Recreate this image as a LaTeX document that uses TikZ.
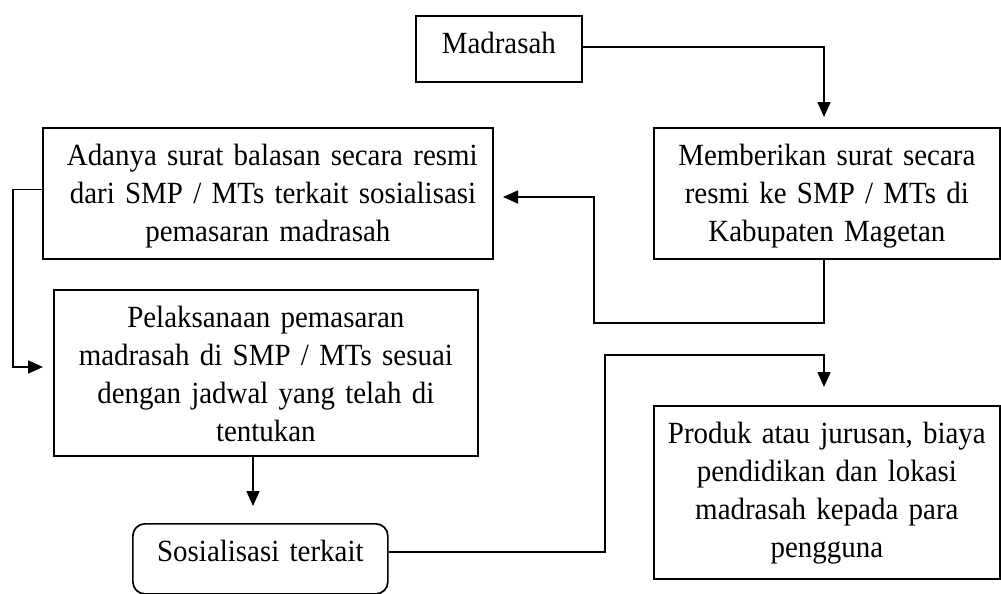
\documentclass[tikz,border=0pt]{standalone}
\usepackage{fontspec}
\setmainfont{Liberation Serif}[FakeStretch=0.94]
\usetikzlibrary{arrows.meta}
\tikzset{
  boxnode/.style={draw, line width=1.7pt, inner sep=0pt, align=center, anchor=north west,
    font=\fontsize{30.8}{38}\selectfont, text height=38pt},
  arr/.style={line width=1.7pt, -{Triangle[length=15pt,width=13pt]}},
  conn/.style={line width=1.7pt}
}
\begin{document}
\begin{tikzpicture}[x=1pt,y=-1pt]
\useasboundingbox (0,0) rectangle (1001,594);
\node[boxnode, text width=166pt, text depth=28pt] (mad) at (415,15) {Madrasah};
\node[boxnode, text width=450pt, text depth=93pt] (ada) at (42,127)
  {\hspace*{19pt}\makebox[421pt][s]{Adanya surat balasan secara resmi}\\
   \hspace*{22pt}\makebox[418pt][s]{dari SMP / MTs terkait sosialisasi}\\
   pemasaran madrasah};
\node[boxnode, text width=346pt, text depth=93pt] (mem) at (653,127)
  {Memberikan surat secara\\ resmi ke SMP / MTs di\\ Kabupaten Magetan};
\node[boxnode, text width=424pt, text depth=128pt] (pel) at (53,289)
  {Pelaksanaan pemasaran\\ madrasah di SMP / MTs sesuai\\ dengan jadwal yang telah di\\ tentukan};
\node[boxnode, rounded corners=12pt, text width=255pt, text depth=32pt] (sos) at (132,523)
  {Sosialisasi terkait};
\node[boxnode, text width=346pt, text depth=135pt] (pro) at (653,405)
  {Produk atau jurusan, biaya\\ pendidikan dan lokasi\\ madrasah kepada para\\ pengguna};

% Madrasah -> Memberikan
\coordinate (t1) at (824,117);
\draw[arr] ([yshift=2pt]mad.east) -| (t1);
% Memberikan -> Adanya
\coordinate (t2) at (503,197);
\draw[arr] ([xshift=-3pt]mem.south) |- (594,323) |- (t2);
% Adanya -> Pelaksanaan
\coordinate (t3) at (43,367);
\draw[arr] ([yshift=4pt]ada.west) -| (13,367) -- (t3);
% Pelaksanaan -> Sosialisasi
\coordinate (t4) at (253,506);
\draw[arr] (pel.south -| t4) -- (t4);
% Sosialisasi -> Produk
\coordinate (t5) at (824,387);
\draw[arr] ([yshift=7pt]sos.east) -| (605,355) -| (t5);
\end{tikzpicture}
\end{document}
